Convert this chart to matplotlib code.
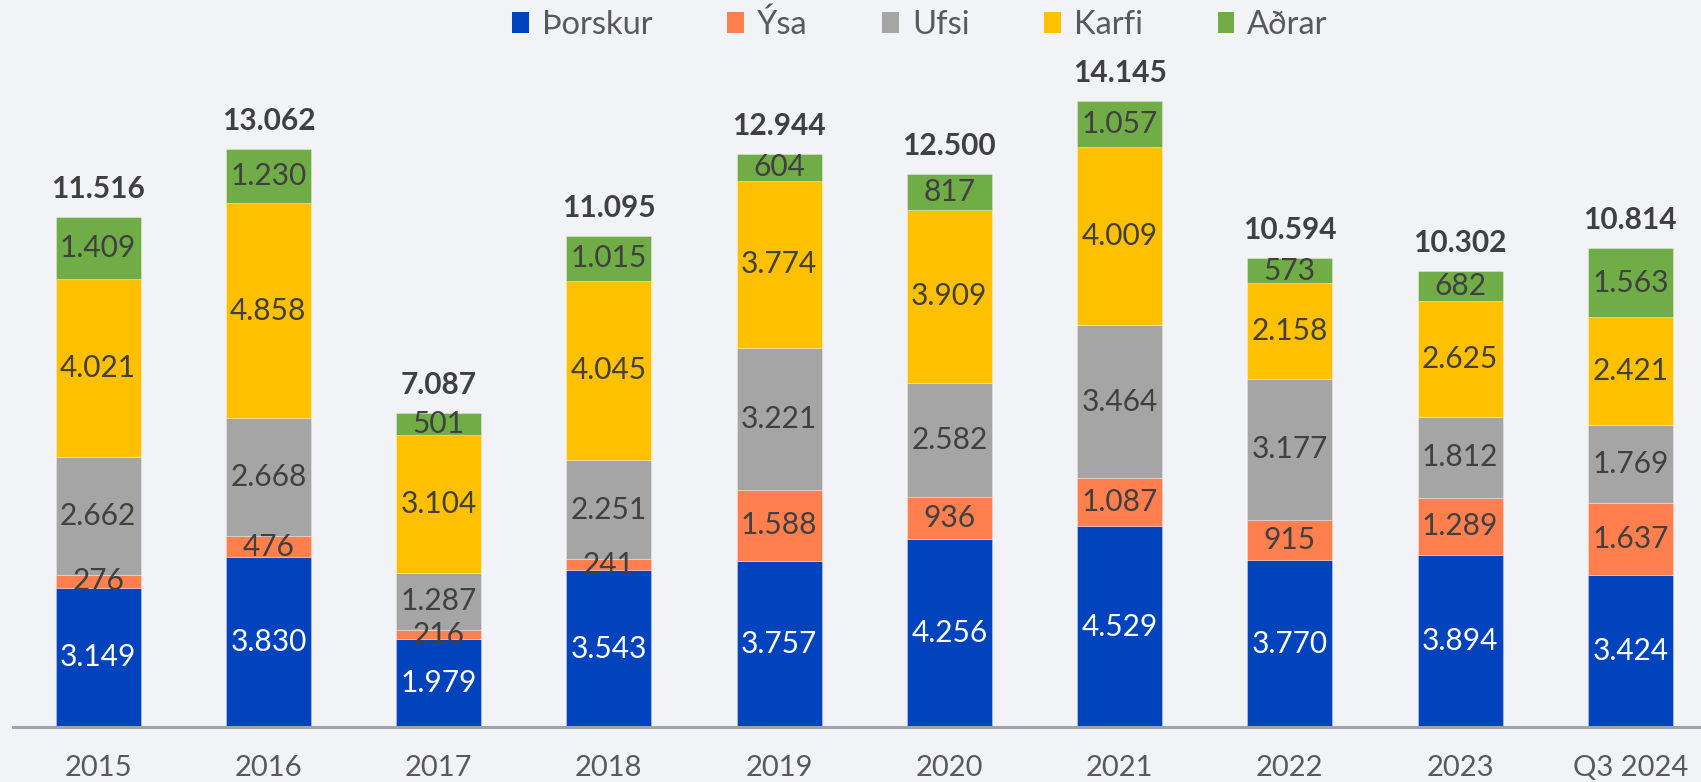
import matplotlib
matplotlib.use("Agg")
import matplotlib.pyplot as plt
from matplotlib.patches import Patch

categories = ["2015", "2016", "2017", "2018", "2019", "2020", "2021", "2022", "2023", "Q3 2024"]
thorskur = [3149, 3830, 1979, 3543, 3757, 4256, 4529, 3770, 3894, 3424]
ysa = [276, 476, 216, 241, 1588, 936, 1087, 915, 1289, 1637]
ufsi = [2662, 2668, 1287, 2251, 3221, 2582, 3464, 3177, 1812, 1769]
karfi = [4021, 4858, 3104, 4045, 3774, 3909, 4009, 2158, 2625, 2421]
adrar = [1409, 1230, 501, 1015, 604, 817, 1057, 573, 682, 1563]
totals = [11516, 13062, 7087, 11095, 12944, 12500, 14145, 10594, 10302, 10814]
series_names = ["Þorskur", "Ýsa", "Ufsi", "Karfi", "Aðrar"]

colors = ["#0043BC", "#FF7F4F", "#A5A5A5", "#FFC000", "#70AD47"]
label_colors = ["white", "#404040", "#404040", "#404040", "#404040"]
bg = "#F2F3F7"

plt.rcParams['font.family'] = ['Lato', 'DejaVu Sans']

fig = plt.figure(figsize=(17.01, 7.82), dpi=100, facecolor=bg)
ax = fig.add_axes([13/1701, 55/782, 1 - 13/1701, 708/782])
ax.set_facecolor(bg)

def fmt(v):
    return f"{v:,}".replace(",", ".")

x = list(range(len(categories)))
bottoms = [0] * len(categories)
data = [thorskur, ysa, ufsi, karfi, adrar]
for vals, c, lc in zip(data, colors, label_colors):
    ax.bar(x, vals, width=0.5, bottom=bottoms, color=c,
           edgecolor=(1, 1, 1, 0.35), linewidth=0.6, zorder=2)
    for xi, b, v in zip(x, bottoms, vals):
        ax.text(xi, b + v / 2, fmt(v), ha='center', va='center',
                color=lc, fontsize=21.5, zorder=3)
    bottoms = [b + v for b, v in zip(bottoms, vals)]

for xi, top, t in zip(x, bottoms, totals):
    ax.annotate(fmt(t), (xi, top), xytext=(0, 10), textcoords='offset points',
                ha='center', va='bottom', fontsize=21.5, fontweight='bold',
                color='#404040')

ax.set_xlim(-0.5, 9.415)
ax.set_ylim(0, 15990)
ax.set_yticks([])
ax.set_xticks(x)
ax.set_xticklabels(categories, fontsize=21, color='#595959')
ax.tick_params(axis='x', length=0, pad=20)
for s in ['top', 'right', 'left']:
    ax.spines[s].set_visible(False)
ax.spines['bottom'].set_color('#A0A4A8')
ax.spines['bottom'].set_linewidth(2.2)

handles = [Patch(facecolor=c, edgecolor='none') for c in colors]
fig.legend(handles, series_names, loc='center', bbox_to_anchor=(920/1701, 1 - 25/782),
           ncol=5, frameon=False, fontsize=23.5, labelcolor='#595959',
           handlelength=0.5, handleheight=0.62, handletextpad=0.4,
           columnspacing=2.3)

fig.savefig("out.png", dpi=100, facecolor=bg)
